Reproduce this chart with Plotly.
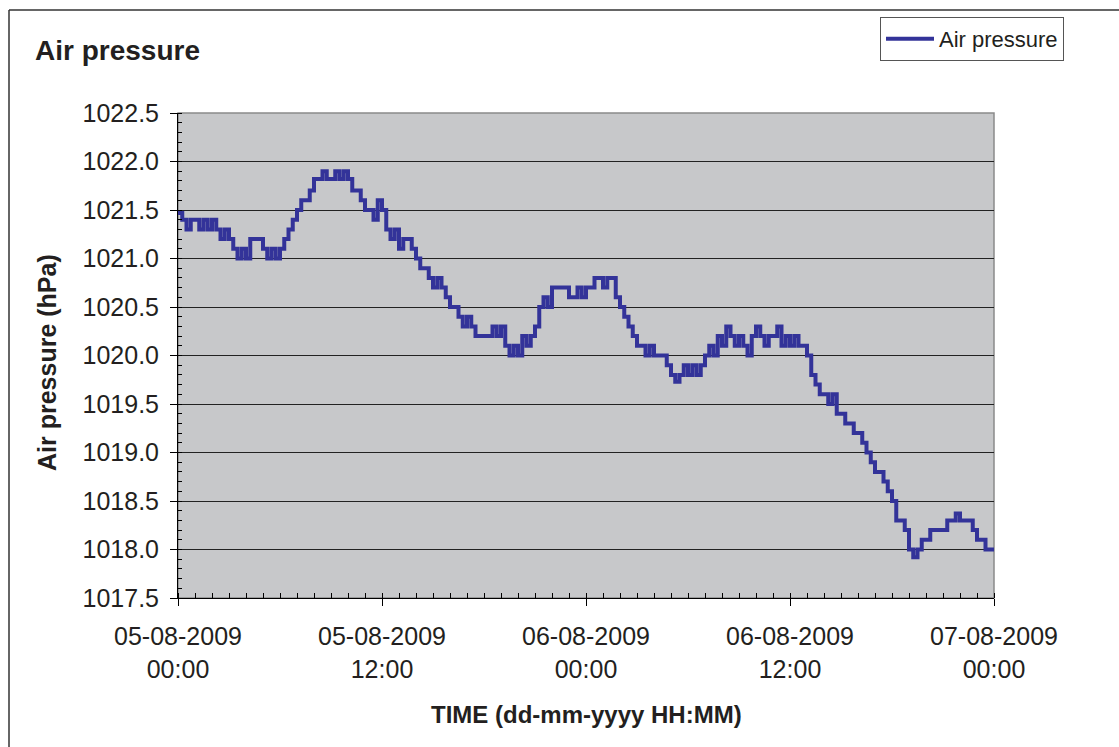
import pandas as pd
import plotly.graph_objects as go

# ---- data (15-minute readings, hPa) ----
start_time = "2009-08-05 00:00"
interval = "15min"
pressure = [
    1021.47, 1021.4, 1021.3, 1021.4,
    1021.4, 1021.3, 1021.4, 1021.3,
    1021.4, 1021.3, 1021.2, 1021.3,
    1021.2, 1021.1, 1021.0, 1021.1,
    1021.0, 1021.2, 1021.2, 1021.2,
    1021.1, 1021.0, 1021.1, 1021.0,
    1021.1, 1021.2, 1021.3, 1021.4,
    1021.5, 1021.6, 1021.6, 1021.7,
    1021.82, 1021.82, 1021.9, 1021.82,
    1021.82, 1021.9, 1021.82, 1021.9,
    1021.82, 1021.7, 1021.7, 1021.6,
    1021.5, 1021.5, 1021.4, 1021.6,
    1021.5, 1021.3, 1021.2, 1021.3,
    1021.1, 1021.2, 1021.2, 1021.1,
    1021.0, 1020.9, 1020.9, 1020.8,
    1020.7, 1020.8, 1020.7, 1020.6,
    1020.5, 1020.5, 1020.4, 1020.3,
    1020.4, 1020.3, 1020.2, 1020.2,
    1020.2, 1020.2, 1020.3, 1020.2,
    1020.3, 1020.1, 1020.0, 1020.1,
    1020.0, 1020.2, 1020.1, 1020.2,
    1020.3, 1020.5, 1020.6, 1020.5,
    1020.7, 1020.7, 1020.7, 1020.7,
    1020.6, 1020.6, 1020.7, 1020.6,
    1020.7, 1020.7, 1020.8, 1020.8,
    1020.7, 1020.8, 1020.8, 1020.6,
    1020.5, 1020.4, 1020.3, 1020.2,
    1020.1, 1020.1, 1020.0, 1020.1,
    1020.0, 1020.0, 1020.0, 1019.9,
    1019.8, 1019.73, 1019.8, 1019.9,
    1019.8, 1019.9, 1019.8, 1019.9,
    1020.0, 1020.1, 1020.0, 1020.2,
    1020.1, 1020.3, 1020.2, 1020.1,
    1020.2, 1020.1, 1020.0, 1020.2,
    1020.3, 1020.2, 1020.1, 1020.2,
    1020.2, 1020.3, 1020.1, 1020.2,
    1020.1, 1020.2, 1020.1, 1020.1,
    1020.0, 1019.8, 1019.7, 1019.6,
    1019.6, 1019.5, 1019.6, 1019.4,
    1019.4, 1019.3, 1019.3, 1019.2,
    1019.2, 1019.1, 1019.0, 1018.9,
    1018.8, 1018.8, 1018.7, 1018.6,
    1018.5, 1018.3, 1018.3, 1018.2,
    1018.0, 1017.92, 1018.0, 1018.1,
    1018.1, 1018.2, 1018.2, 1018.2,
    1018.2, 1018.3, 1018.3, 1018.37,
    1018.3, 1018.3, 1018.3, 1018.2,
    1018.1, 1018.1, 1018.0, 1018.0,
    1018.0,
]
times = pd.date_range(start_time, periods=len(pressure), freq=interval)

x_tick_values = ["2009-08-05 00:00", "2009-08-05 12:00", "2009-08-06 00:00",
                 "2009-08-06 12:00", "2009-08-07 00:00"]
x_tick_labels = ["05-08-2009<br>00:00", "05-08-2009<br>12:00", "06-08-2009<br>00:00",
                 "06-08-2009<br>12:00", "07-08-2009<br>00:00"]
y_tick_values = [1017.5, 1018.0, 1018.5, 1019.0, 1019.5, 1020.0, 1020.5,
                 1021.0, 1021.5, 1022.0, 1022.5]

# ---- layout constants ----
W, H = 1119, 747
L, R, T, B = 178, 125, 113, 149
PW, PH = W - L - R, H - T - B
FONT = "Liberation Sans, Arial, sans-serif"
TXT = "#231f20"
LINE = "#333399"

fig = go.Figure()
fig.add_trace(go.Scatter(
    x=times, y=pressure, mode="lines", name="Air pressure",
    line=dict(color=LINE, width=4, shape="hv"),
))

fig.update_layout(
    width=W, height=H,
    margin=dict(l=L, r=R, t=T, b=B, pad=0),
    paper_bgcolor="white",
    plot_bgcolor="#c7c8ca",
    font=dict(family=FONT, color=TXT),
    title=dict(text="<b>Air pressure</b>", x=35 / W, xref="container", xanchor="left",
               y=1 - 50 / H, yref="container", yanchor="middle",
               font=dict(size=28, family=FONT, color=TXT)),
    showlegend=True,
    legend=dict(x=(880 - L) / PW, y=(H - B - 17) / PH, xanchor="left", yanchor="top",
                bgcolor="white", bordercolor="#555", borderwidth=1,
                font=dict(size=22, family=FONT, color=TXT),
                itemwidth=48, tracegroupgap=0),
)

fig.update_xaxes(
    type="date",
    range=[x_tick_values[0], x_tick_values[-1]],
    tickmode="array", tickvals=x_tick_values, ticktext=x_tick_labels,
    showgrid=False, zeroline=False,
    showline=True, linecolor="black", linewidth=1,
    ticks="outside", ticklen=7, tickcolor="black", tickwidth=1,
    minor=dict(ticks="inside", ticklen=5, tickcolor="black", tickwidth=1,
               tickmode="linear", tick0=x_tick_values[0], dtick=3600000, showgrid=False),
    tickfont=dict(size=25, family=FONT, color=TXT),
    ticklabelstandoff=9,
)
fig.update_yaxes(
    range=[y_tick_values[0], y_tick_values[-1]],
    tickmode="array", tickvals=y_tick_values,
    ticktext=[f"{v:.1f}" for v in y_tick_values],
    showgrid=True, gridcolor="#222", gridwidth=1, zeroline=False,
    showline=True, linecolor="black", linewidth=1,
    ticks="outside", ticklen=7, tickcolor="black", tickwidth=1,
    minor=dict(ticks="inside", ticklen=4, tickcolor="black", tickwidth=1,
               tickmode="linear", tick0=1017.5, dtick=0.1, showgrid=False),
    tickfont=dict(size=25, family=FONT, color=TXT),
    ticklabelstandoff=6,
)

# plot-area gray border (top/right)
fig.add_shape(type="rect", xref="paper", yref="paper", x0=0, x1=1, y0=0, y1=1,
              line=dict(color="#8a8a8a", width=1.5), layer="below")
# outer chart frame (top and left edges visible)
fig.add_shape(type="line", xref="paper", yref="paper",
              x0=(9 - L) / PW, x1=(W + 5 - L) / PW,
              y0=(H - B - 10) / PH, y1=(H - B - 10) / PH,
              line=dict(color="#333", width=1.5))
fig.add_shape(type="line", xref="paper", yref="paper",
              x0=(9 - L) / PW, x1=(9 - L) / PW,
              y0=(H - B - 10) / PH, y1=-(B + 5) / PH,
              line=dict(color="#333", width=1.5))

# axis titles
fig.add_annotation(text="<b>TIME (dd-mm-yyyy HH:MM)</b>", xref="paper", yref="paper",
                   x=0.5, y=-(714 - (H - B)) / PH, xanchor="center", yanchor="middle",
                   showarrow=False, font=dict(size=24, family=FONT, color=TXT))
fig.add_annotation(text="<b>Air pressure (hPa)</b>", xref="paper", yref="paper",
                   x=(47 - L) / PW, y=(H - B - 363) / PH, xanchor="center", yanchor="middle",
                   textangle=-90, showarrow=False, font=dict(size=25, family=FONT, color=TXT))

fig.write_html("out.html", config={"displayModeBar": False},
               post_script="document.body.style.margin='0';document.body.style.padding='0';")
